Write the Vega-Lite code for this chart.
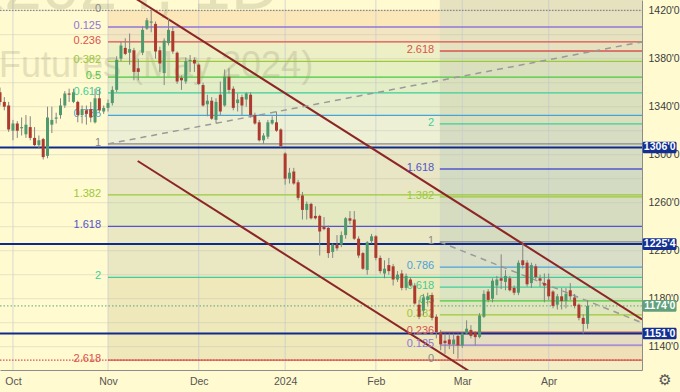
{
  "$schema": "https://vega.github.io/schema/vega-lite/v6.json",
  "width": 642,
  "height": 370,
  "autosize": {"type": "none"},
  "padding": {"left": 0, "top": 0, "right": 38, "bottom": 22},
  "background": "#fffad0",
  "config": {"view": {"stroke": null}, "font": "Liberation Sans"},
  "datasets": {
    "candles": [
      {"i":-3,"o":1352,"h":1356,"l":1341,"c":1344},
      {"i":-2,"o":1344,"h":1348,"l":1337,"c":1340},
      {"i":-1,"o":1341,"h":1344,"l":1319,"c":1321},
      {"i":0,"o":1320,"h":1329,"l":1312,"c":1326},
      {"i":1,"o":1326,"h":1328,"l":1314,"c":1320},
      {"i":2,"o":1322,"h":1331,"l":1316,"c":1323},
      {"i":3,"o":1317,"h":1333,"l":1314,"c":1325},
      {"i":4,"o":1323,"h":1332,"l":1312,"c":1314},
      {"i":5,"o":1314,"h":1323,"l":1307,"c":1308},
      {"i":6,"o":1308,"h":1316,"l":1305,"c":1312},
      {"i":7,"o":1313,"h":1314,"l":1296,"c":1298},
      {"i":8,"o":1299,"h":1340,"l":1297,"c":1331},
      {"i":9,"o":1325,"h":1340,"l":1318,"c":1329},
      {"i":10,"o":1330,"h":1335,"l":1326,"c":1331},
      {"i":11,"o":1333,"h":1347,"l":1330,"c":1341},
      {"i":12,"o":1341,"h":1353,"l":1339,"c":1351},
      {"i":13,"o":1351,"h":1355,"l":1344,"c":1350},
      {"i":14,"o":1344,"h":1355,"l":1343,"c":1352},
      {"i":15,"o":1344,"h":1345,"l":1327,"c":1333},
      {"i":16,"o":1333,"h":1341,"l":1326,"c":1338},
      {"i":17,"o":1337,"h":1341,"l":1325,"c":1334},
      {"i":18,"o":1338,"h":1344,"l":1327,"c":1331},
      {"i":19,"o":1327,"h":1355,"l":1326,"c":1347},
      {"i":20,"o":1347,"h":1355,"l":1335,"c":1337},
      {"i":21,"o":1336,"h":1341,"l":1334,"c":1339},
      {"i":22,"o":1339,"h":1346,"l":1336,"c":1343},
      {"i":23,"o":1343,"h":1357,"l":1341,"c":1354},
      {"i":24,"o":1354,"h":1382,"l":1352,"c":1379},
      {"i":25,"o":1380,"h":1394,"l":1378,"c":1391},
      {"i":26,"o":1389,"h":1397,"l":1383,"c":1384},
      {"i":27,"o":1385,"h":1401,"l":1375,"c":1388},
      {"i":28,"o":1387,"h":1389,"l":1362,"c":1369},
      {"i":29,"o":1372,"h":1380,"l":1362,"c":1369},
      {"i":30,"o":1385,"h":1407,"l":1383,"c":1404},
      {"i":31,"o":1405,"h":1414,"l":1404,"c":1412},
      {"i":32,"o":1410,"h":1420,"l":1402,"c":1411},
      {"i":33,"o":1409,"h":1411,"l":1380,"c":1386},
      {"i":34,"o":1387,"h":1390,"l":1369,"c":1376},
      {"i":35,"o":1368,"h":1397,"l":1358,"c":1395},
      {"i":36,"o":1393,"h":1414,"l":1391,"c":1404},
      {"i":37,"o":1403,"h":1407,"l":1384,"c":1386},
      {"i":38,"o":1385,"h":1386,"l":1359,"c":1361},
      {"i":39,"o":1364,"h":1366,"l":1354,"c":1362},
      {"i":40,"o":1361,"h":1381,"l":1359,"c":1378},
      {"i":41,"o":1378,"h":1383,"l":1369,"c":1379},
      {"i":42,"o":1379,"h":1381,"l":1369,"c":1376},
      {"i":43,"o":1375,"h":1376,"l":1358,"c":1359},
      {"i":44,"o":1358,"h":1360,"l":1340,"c":1341},
      {"i":45,"o":1342,"h":1350,"l":1332,"c":1345},
      {"i":46,"o":1345,"h":1348,"l":1329,"c":1330},
      {"i":47,"o":1329,"h":1347,"l":1326,"c":1344},
      {"i":48,"o":1350,"h":1361,"l":1333,"c":1336},
      {"i":49,"o":1341,"h":1371,"l":1340,"c":1365},
      {"i":50,"o":1365,"h":1372,"l":1351,"c":1354},
      {"i":51,"o":1355,"h":1357,"l":1337,"c":1339},
      {"i":52,"o":1343,"h":1351,"l":1336,"c":1346},
      {"i":53,"o":1348,"h":1350,"l":1333,"c":1341},
      {"i":54,"o":1346,"h":1352,"l":1340,"c":1351},
      {"i":55,"o":1350,"h":1352,"l":1331,"c":1333},
      {"i":56,"o":1333,"h":1335,"l":1325,"c":1326},
      {"i":57,"o":1327,"h":1329,"l":1311,"c":1312},
      {"i":58,"o":1312,"h":1318,"l":1309,"c":1316},
      {"i":59,"o":1315,"h":1329,"l":1313,"c":1327},
      {"i":60,"o":1326,"h":1332,"l":1325,"c":1329},
      {"i":61,"o":1327,"h":1336,"l":1319,"c":1320},
      {"i":62,"o":1321,"h":1322,"l":1306,"c":1307},
      {"i":63,"o":1301,"h":1302,"l":1275,"c":1280},
      {"i":64,"o":1280,"h":1289,"l":1276,"c":1285},
      {"i":65,"o":1286,"h":1289,"l":1275,"c":1276},
      {"i":66,"o":1277,"h":1279,"l":1262,"c":1264},
      {"i":67,"o":1266,"h":1269,"l":1246,"c":1254},
      {"i":68,"o":1254,"h":1261,"l":1246,"c":1259},
      {"i":69,"o":1259,"h":1260,"l":1246,"c":1247},
      {"i":70,"o":1249,"h":1257,"l":1246,"c":1247},
      {"i":71,"o":1249,"h":1250,"l":1216,"c":1236},
      {"i":72,"o":1240,"h":1248,"l":1237,"c":1238},
      {"i":73,"o":1239,"h":1241,"l":1214,"c":1218},
      {"i":74,"o":1219,"h":1226,"l":1214,"c":1225},
      {"i":75,"o":1225,"h":1233,"l":1220,"c":1222},
      {"i":76,"o":1225,"h":1236,"l":1223,"c":1233},
      {"i":77,"o":1233,"h":1248,"l":1230,"c":1247},
      {"i":78,"o":1247,"h":1253,"l":1242,"c":1245},
      {"i":79,"o":1246,"h":1253,"l":1229,"c":1230},
      {"i":80,"o":1230,"h":1232,"l":1214,"c":1216},
      {"i":81,"o":1218,"h":1219,"l":1204,"c":1205},
      {"i":82,"o":1204,"h":1228,"l":1200,"c":1227},
      {"i":83,"o":1228,"h":1234,"l":1226,"c":1232},
      {"i":84,"o":1232,"h":1233,"l":1212,"c":1214},
      {"i":85,"o":1214,"h":1216,"l":1201,"c":1203},
      {"i":86,"o":1201,"h":1212,"l":1197,"c":1205},
      {"i":87,"o":1208,"h":1214,"l":1200,"c":1203},
      {"i":88,"o":1207,"h":1209,"l":1191,"c":1196},
      {"i":89,"o":1196,"h":1203,"l":1194,"c":1200},
      {"i":90,"o":1201,"h":1204,"l":1187,"c":1189},
      {"i":91,"o":1189,"h":1201,"l":1187,"c":1199},
      {"i":92,"o":1196,"h":1198,"l":1190,"c":1191},
      {"i":93,"o":1191,"h":1193,"l":1175,"c":1176},
      {"i":94,"o":1175,"h":1179,"l":1163,"c":1165},
      {"i":95,"o":1170,"h":1184,"l":1166,"c":1181},
      {"i":96,"o":1179,"h":1185,"l":1175,"c":1182},
      {"i":97,"o":1183,"h":1185,"l":1162,"c":1164},
      {"i":98,"o":1165,"h":1167,"l":1147,"c":1152},
      {"i":99,"o":1152,"h":1154,"l":1137,"c":1142},
      {"i":100,"o":1145,"h":1151,"l":1134,"c":1143},
      {"i":101,"o":1146,"h":1151,"l":1138,"c":1142},
      {"i":102,"o":1142,"h":1151,"l":1134,"c":1146},
      {"i":103,"o":1149,"h":1151,"l":1130,"c":1141},
      {"i":104,"o":1141,"h":1152,"l":1139,"c":1151},
      {"i":105,"o":1151,"h":1162,"l":1150,"c":1155},
      {"i":106,"o":1154,"h":1158,"l":1147,"c":1149},
      {"i":107,"o":1152,"h":1153,"l":1141,"c":1148},
      {"i":108,"o":1148,"h":1168,"l":1147,"c":1166},
      {"i":109,"o":1165,"h":1187,"l":1164,"c":1184},
      {"i":110,"o":1186,"h":1188,"l":1177,"c":1179},
      {"i":111,"o":1180,"h":1197,"l":1177,"c":1195},
      {"i":112,"o":1191,"h":1199,"l":1183,"c":1196},
      {"i":113,"o":1197,"h":1217,"l":1188,"c":1195},
      {"i":114,"o":1194,"h":1204,"l":1187,"c":1199},
      {"i":115,"o":1197,"h":1199,"l":1186,"c":1187},
      {"i":116,"o":1189,"h":1191,"l":1183,"c":1185},
      {"i":117,"o":1185,"h":1212,"l":1183,"c":1210},
      {"i":118,"o":1212,"h":1226,"l":1205,"c":1208},
      {"i":119,"o":1210,"h":1212,"l":1190,"c":1192},
      {"i":120,"o":1193,"h":1210,"l":1189,"c":1208},
      {"i":121,"o":1207,"h":1209,"l":1196,"c":1198},
      {"i":122,"o":1197,"h":1200,"l":1190,"c":1195},
      {"i":123,"o":1193,"h":1201,"l":1177,"c":1191},
      {"i":124,"o":1196,"h":1201,"l":1179,"c":1182},
      {"i":125,"o":1186,"h":1187,"l":1172,"c":1174},
      {"i":126,"o":1175,"h":1184,"l":1171,"c":1182},
      {"i":127,"o":1182,"h":1189,"l":1171,"c":1178},
      {"i":128,"o":1178,"h":1189,"l":1172,"c":1184},
      {"i":129,"o":1187,"h":1193,"l":1179,"c":1182},
      {"i":130,"o":1181,"h":1184,"l":1172,"c":1174},
      {"i":131,"o":1175,"h":1176,"l":1162,"c":1164},
      {"i":132,"o":1164,"h":1167,"l":1151,"c":1159},
      {"i":133,"o":1159,"h":1179,"l":1155,"c":1174}
    ],
    "leftfib": [
      {"lvl":"0","p":1420.3},{"lvl":"0.125","p":1406.4},{"lvl":"0.236","p":1394.0},
      {"lvl":"0.382","p":1377.8},{"lvl":"0.5","p":1364.7},{"lvl":"0.618","p":1351.5},
      {"lvl":"0.786","p":1332.8},{"lvl":"1","p":1309.0},{"lvl":"1.382","p":1266.5},
      {"lvl":"1.618","p":1240.2},{"lvl":"2","p":1197.7},{"lvl":"2.618","p":1128.9}
    ],
    "rightfib": [
      {"lvl":"0","p":1129.0},{"lvl":"0.125","p":1141.3},{"lvl":"0.236","p":1152.2},
      {"lvl":"0.382","p":1166.6},{"lvl":"0.5","p":1178.2},{"lvl":"0.618","p":1189.7},
      {"lvl":"0.786","p":1206.3},{"lvl":"1","p":1227.3},{"lvl":"1.382","p":1264.9},
      {"lvl":"1.618","p":1288.1},{"lvl":"2","p":1325.6},{"lvl":"2.618","p":1386.4}
    ],
    "leftbands": [
      {"b":"L0","p1":1420.3,"p2":1406.4},{"b":"L1","p1":1406.4,"p2":1394.0},
      {"b":"L2","p1":1394.0,"p2":1377.8},{"b":"L3","p1":1377.8,"p2":1364.7},
      {"b":"L4","p1":1364.7,"p2":1351.5},{"b":"L5","p1":1351.5,"p2":1332.8},
      {"b":"L6","p1":1332.8,"p2":1309.0},{"b":"L7","p1":1309.0,"p2":1266.5},
      {"b":"L8","p1":1266.5,"p2":1240.2},{"b":"L9","p1":1240.2,"p2":1197.7},
      {"b":"L10","p1":1197.7,"p2":1128.9}
    ],
    "rightbands": [
      {"b":"RT","p1":1428.9,"p2":1386.4},{"b":"R0","p1":1386.4,"p2":1325.6},
      {"b":"R1","p1":1325.6,"p2":1288.1},{"b":"R2","p1":1288.1,"p2":1264.9},
      {"b":"R3","p1":1264.9,"p2":1227.3},{"b":"R4","p1":1227.3,"p2":1206.3},
      {"b":"R5","p1":1206.3,"p2":1189.7},{"b":"R6","p1":1189.7,"p2":1178.2},
      {"b":"R7","p1":1178.2,"p2":1166.6},{"b":"R8","p1":1166.6,"p2":1152.2},
      {"b":"R9","p1":1152.2,"p2":1141.3},{"b":"R10","p1":1141.3,"p2":1129.0},
      {"b":"RB","p1":1129.0,"p2":1120.6}
    ],
    "hgrid": [
      {"p":1140},{"p":1160},{"p":1180},{"p":1200},{"p":1220},{"p":1240},{"p":1260},{"p":1280},
      {"p":1300},{"p":1320},{"p":1340},{"p":1360},{"p":1380},{"p":1400},{"p":1420}
    ],
    "vgrid": [{"i":0},{"i":22},{"i":43},{"i":63},{"i":84},{"i":104},{"i":124}],
    "navy": [{"p":1306},{"p":1225.5},{"p":1151}],
    "tags": [
      {"p":1306,"t":"1306'0","k":"level"},
      {"p":1225.5,"t":"1225'4","k":"level"},
      {"p":1174,"t":"1174'0","k":"last"},
      {"p":1151,"t":"1151'0","k":"level"}
    ]
  },
  "layer": [
    {
      "data": {"name": "leftbands"},
      "mark": {"type": "rect"},
      "encoding": {
        "x": {"datum": 22, "type": "quantitative", "scale": {"domain": [-3, 145.6], "nice": false, "zero": false}},
        "x2": {"datum": 145.6},
        "y": {"field": "p1", "type": "quantitative", "scale": {"domain": [1120.6, 1428.9], "nice": false, "zero": false}},
        "y2": {"field": "p2"},
        "fill": {"field": "b", "type": "nominal", "legend": null,
          "scale": {"domain": ["L0","L1","L2","L3","L4","L5","L6","L7","L8","L9","L10","RT","R0","R1","R2","R3","R4","R5","R6","R7","R8","R9","R10","RB"],
                    "range": ["#fbe7b7","#f3e5c1","#edefc5","#e5efc1","#e3eec7","#e5edcd","#eef0d5","#e8e6c4","#e5e9c2","#eae7c3","#eee8bb","#e6e1bf","#dae0bd","#d6ddc3","#d3dbc3","#d5dcc0","#d9dec8","#dae2c6","#dce5c2","#dfe6bd","#e4e6bd","#e6dcc2","#efe0b8","#f3eec6"]}}
      }
    },
    {
      "data": {"name": "rightbands"},
      "mark": {"type": "rect"},
      "encoding": {
        "x": {"datum": 98.8, "type": "quantitative", "scale": {"domain": [-3, 145.6], "nice": false, "zero": false}},
        "x2": {"datum": 145.6},
        "y": {"field": "p1", "type": "quantitative", "scale": {"domain": [1120.6, 1428.9], "nice": false, "zero": false}},
        "y2": {"field": "p2"},
        "fill": {"field": "b", "type": "nominal", "legend": null,
          "scale": {"domain": ["L0","L1","L2","L3","L4","L5","L6","L7","L8","L9","L10","RT","R0","R1","R2","R3","R4","R5","R6","R7","R8","R9","R10","RB"],
                    "range": ["#fbe7b7","#f3e5c1","#edefc5","#e5efc1","#e3eec7","#e5edcd","#eef0d5","#e8e6c4","#e5e9c2","#eae7c3","#eee8bb","#e6e1bf","#dae0bd","#d6ddc3","#d3dbc3","#d5dcc0","#d9dec8","#dae2c6","#dce5c2","#dfe6bd","#e4e6bd","#e6dcc2","#efe0b8","#f3eec6"]}}
      }
    },
    {
      "data": {"name": "hgrid"},
      "mark": {"type": "rule", "color": "#b8b8a8", "opacity": 0.35, "strokeWidth": 1},
      "encoding": {
        "x": {"datum": -3, "type": "quantitative", "scale": {"domain": [-3, 145.6], "nice": false, "zero": false}},
        "x2": {"datum": 145.6},
        "y": {"field": "p", "type": "quantitative", "scale": {"domain": [1120.6, 1428.9], "nice": false, "zero": false}}
      }
    },
    {
      "data": {"name": "vgrid"},
      "mark": {"type": "rule", "color": "#c4c9d2", "opacity": 0.7, "strokeWidth": 1},
      "encoding": {
        "x": {"field": "i", "type": "quantitative", "scale": {"domain": [-3, 145.6], "nice": false, "zero": false}},
        "y": {"datum": 1120.6, "type": "quantitative", "scale": {"domain": [1120.6, 1428.9], "nice": false, "zero": false}},
        "y2": {"datum": 1428.9}
      }
    },
    {
      "data": {"values": [{"t": "Futures (May 2024)"}]},
      "mark": {"type": "text", "align": "left", "baseline": "alphabetic", "font": "Liberation Sans", "fontSize": 36, "color": "#8a8667", "opacity": 0.22},
      "encoding": {
        "x": {"datum": -3.23, "type": "quantitative", "scale": {"domain": [-3, 145.6], "nice": false, "zero": false}},
        "y": {"datum": 1364.5, "type": "quantitative", "scale": {"domain": [1120.6, 1428.9], "nice": false, "zero": false}},
        "text": {"field": "t"}
      }
    },
    {
      "data": {"values": [{"t": "ZSK2024, 1D"}]},
      "mark": {"type": "text", "align": "right", "baseline": "alphabetic", "font": "Liberation Sans", "fontSize": 68, "color": "#8a8667", "opacity": 0.22},
      "encoding": {
        "x": {"datum": 61.8, "type": "quantitative", "scale": {"domain": [-3, 145.6], "nice": false, "zero": false}},
        "y": {"datum": 1421, "type": "quantitative", "scale": {"domain": [1120.6, 1428.9], "nice": false, "zero": false}},
        "text": {"field": "t"}
      }
    },
    {
      "data": {"name": "leftfib"},
      "transform": [{"filter": "datum.lvl != '0'"}],
      "mark": {"type": "rule", "strokeWidth": 1.3},
      "encoding": {
        "x": {"datum": 22, "type": "quantitative", "scale": {"domain": [-3, 145.6], "nice": false, "zero": false}},
        "x2": {"datum": 145.6},
        "y": {"field": "p", "type": "quantitative", "scale": {"domain": [1120.6, 1428.9], "nice": false, "zero": false}},
        "stroke": {"field": "lvl", "type": "nominal", "legend": null,
          "scale": {"domain": ["0","0.125","0.236","0.382","0.5","0.618","0.786","1","1.382","1.618","2","2.618"],
                    "range": ["#8a8a8e","#9076d8","#d9534f","#9cc93a","#4cc83f","#3dcf98","#4aa3d8","#8a8a8a","#9cc93a","#5356cc","#3dcf98","#d9534f"]}}
      }
    },
    {
      "data": {"name": "rightfib"},
      "transform": [{"filter": "datum.lvl != '0'"}],
      "mark": {"type": "rule", "strokeWidth": 1.3},
      "encoding": {
        "x": {"datum": 98.8, "type": "quantitative", "scale": {"domain": [-3, 145.6], "nice": false, "zero": false}},
        "x2": {"datum": 145.6},
        "y": {"field": "p", "type": "quantitative", "scale": {"domain": [1120.6, 1428.9], "nice": false, "zero": false}},
        "stroke": {"field": "lvl", "type": "nominal", "legend": null,
          "scale": {"domain": ["0","0.125","0.236","0.382","0.5","0.618","0.786","1","1.382","1.618","2","2.618"],
                    "range": ["#8a8a8e","#9076d8","#d9534f","#9cc93a","#4cc83f","#3dcf98","#4aa3d8","#8a8a8a","#9cc93a","#5356cc","#3dcf98","#d9534f"]}}
      }
    },
    {
      "data": {"values": [{}]},
      "mark": {"type": "rule", "color": "#8a8a8a", "strokeWidth": 1.3, "strokeDash": [1.5, 1.5]},
      "encoding": {
        "x": {"datum": -3, "type": "quantitative", "scale": {"domain": [-3, 145.6], "nice": false, "zero": false}},
        "x2": {"datum": 145.6},
        "y": {"datum": 1420.3, "type": "quantitative", "scale": {"domain": [1120.6, 1428.9], "nice": false, "zero": false}}
      }
    },
    {
      "data": {"values": [{}]},
      "mark": {"type": "rule", "color": "#d9534f", "strokeWidth": 1.3, "strokeDash": [1.5, 1.5]},
      "encoding": {
        "x": {"datum": -3, "type": "quantitative", "scale": {"domain": [-3, 145.6], "nice": false, "zero": false}},
        "x2": {"datum": 145.6},
        "y": {"datum": 1128.9, "type": "quantitative", "scale": {"domain": [1120.6, 1428.9], "nice": false, "zero": false}}
      }
    },
    {
      "data": {"values": [{}]},
      "mark": {"type": "rule", "color": "#5fa37c", "strokeWidth": 1, "strokeDash": [1.5, 2]},
      "encoding": {
        "x": {"datum": -3, "type": "quantitative", "scale": {"domain": [-3, 145.6], "nice": false, "zero": false}},
        "x2": {"datum": 145.6},
        "y": {"datum": 1174, "type": "quantitative", "scale": {"domain": [1120.6, 1428.9], "nice": false, "zero": false}}
      }
    },
    {
      "data": {"name": "navy"},
      "mark": {"type": "rule", "color": "#102a8c", "strokeWidth": 2},
      "encoding": {
        "x": {"datum": -3, "type": "quantitative", "scale": {"domain": [-3, 145.6], "nice": false, "zero": false}},
        "x2": {"datum": 145.6},
        "y": {"field": "p", "type": "quantitative", "scale": {"domain": [1120.6, 1428.9], "nice": false, "zero": false}}
      }
    },
    {
      "data": {"values": [{}]},
      "mark": {"type": "rule", "color": "#8c2626", "strokeWidth": 2, "clip": true},
      "encoding": {
        "x": {"datum": 25, "type": "quantitative", "scale": {"domain": [-3, 145.6], "nice": false, "zero": false}},
        "x2": {"datum": 145.6},
        "y": {"datum": 1437.9, "type": "quantitative", "scale": {"domain": [1120.6, 1428.9], "nice": false, "zero": false}},
        "y2": {"datum": 1162.7}
      }
    },
    {
      "data": {"values": [{}]},
      "mark": {"type": "rule", "color": "#8c2626", "strokeWidth": 2, "clip": true},
      "encoding": {
        "x": {"datum": 28.87, "type": "quantitative", "scale": {"domain": [-3, 145.6], "nice": false, "zero": false}},
        "x2": {"datum": 110},
        "y": {"datum": 1294.75, "type": "quantitative", "scale": {"domain": [1120.6, 1428.9], "nice": false, "zero": false}},
        "y2": {"datum": 1109.6}
      }
    },
    {
      "data": {"values": [{}]},
      "mark": {"type": "rule", "color": "#9a9a9a", "strokeWidth": 1.5, "strokeDash": [6, 5], "clip": true},
      "encoding": {
        "x": {"datum": 22, "type": "quantitative", "scale": {"domain": [-3, 145.6], "nice": false, "zero": false}},
        "x2": {"datum": 145.6},
        "y": {"datum": 1309, "type": "quantitative", "scale": {"domain": [1120.6, 1428.9], "nice": false, "zero": false}},
        "y2": {"datum": 1394}
      }
    },
    {
      "data": {"values": [{}]},
      "mark": {"type": "rule", "color": "#9a9a9a", "strokeWidth": 1.5, "strokeDash": [6, 5], "clip": true},
      "encoding": {
        "x": {"datum": 98.8, "type": "quantitative", "scale": {"domain": [-3, 145.6], "nice": false, "zero": false}},
        "x2": {"datum": 145.6},
        "y": {"datum": 1227.3, "type": "quantitative", "scale": {"domain": [1120.6, 1428.9], "nice": false, "zero": false}},
        "y2": {"datum": 1160}
      }
    },
    {
      "data": {"name": "leftfib"},
      "mark": {"type": "text", "align": "right", "baseline": "middle", "dy": -1, "font": "Liberation Sans Narrow, Liberation Sans", "fontSize": 11},
      "encoding": {
        "x": {"datum": 20.4, "type": "quantitative", "scale": {"domain": [-3, 145.6], "nice": false, "zero": false}},
        "y": {"field": "p", "type": "quantitative", "scale": {"domain": [1120.6, 1428.9], "nice": false, "zero": false}},
        "text": {"field": "lvl"},
        "color": {"field": "lvl", "type": "nominal", "legend": null,
          "scale": {"domain": ["0","0.125","0.236","0.382","0.5","0.618","0.786","1","1.382","1.618","2","2.618"],
                    "range": ["#8a8a8e","#9076d8","#d9534f","#9cc93a","#4cc83f","#3dcf98","#4aa3d8","#8a8a8a","#9cc93a","#5356cc","#3dcf98","#d9534f"]}}
      }
    },
    {
      "data": {"name": "rightfib"},
      "mark": {"type": "text", "align": "right", "baseline": "middle", "dy": -1, "font": "Liberation Sans Narrow, Liberation Sans", "fontSize": 11},
      "encoding": {
        "x": {"datum": 97.5, "type": "quantitative", "scale": {"domain": [-3, 145.6], "nice": false, "zero": false}},
        "y": {"field": "p", "type": "quantitative", "scale": {"domain": [1120.6, 1428.9], "nice": false, "zero": false}},
        "text": {"field": "lvl"},
        "color": {"field": "lvl", "type": "nominal", "legend": null,
          "scale": {"domain": ["0","0.125","0.236","0.382","0.5","0.618","0.786","1","1.382","1.618","2","2.618"],
                    "range": ["#8a8a8e","#9076d8","#d9534f","#9cc93a","#4cc83f","#3dcf98","#4aa3d8","#8a8a8a","#9cc93a","#5356cc","#3dcf98","#d9534f"]}}
      }
    },
    {
      "data": {"name": "candles"},
      "mark": {"type": "rule", "strokeWidth": 1, "color": "#858585"},
      "encoding": {
        "x": {"field": "i", "type": "quantitative", "scale": {"domain": [-3, 145.6], "nice": false, "zero": false},
          "axis": {"orient": "bottom", "title": null, "values": [0, 22, 43, 63, 84, 104, 124],
            "labelExpr": "datum.value == 0 ? 'Oct' : datum.value == 22 ? 'Nov' : datum.value == 43 ? 'Dec' : datum.value == 63 ? '2024' : datum.value == 84 ? 'Feb' : datum.value == 104 ? 'Mar' : 'Apr'",
            "grid": false, "ticks": false, "domain": true, "domainColor": "#8c8c8c", "labelPadding": 6, "labelFlush": false, "labelOverlap": false,
            "labelFont": "Liberation Sans Narrow, Liberation Sans", "labelFontSize": 10.5, "labelColor": "#555555"}},
        "y": {"field": "l", "type": "quantitative", "scale": {"domain": [1120.6, 1428.9], "nice": false, "zero": false},
          "axis": {"orient": "right", "title": null, "values": [1140, 1160, 1180, 1200, 1220, 1240, 1260, 1280, 1300, 1320, 1340, 1360, 1380, 1400, 1420],
            "labelExpr": "datum.value + \"'0\"", "grid": false, "ticks": false, "domain": true, "domainColor": "#8c8c8c",
            "labelPadding": 6, "labelFlush": false, "labelOverlap": false,
            "labelFont": "Liberation Sans Narrow, Liberation Sans", "labelFontSize": 10.5, "labelColor": "#3c3c3c"}},
        "y2": {"field": "h"}
      }
    },
    {
      "data": {"name": "candles"},
      "mark": {"type": "rule", "strokeWidth": 3, "strokeCap": "butt"},
      "encoding": {
        "x": {"field": "i", "type": "quantitative", "scale": {"domain": [-3, 145.6], "nice": false, "zero": false}},
        "y": {"field": "o", "type": "quantitative", "scale": {"domain": [1120.6, 1428.9], "nice": false, "zero": false}},
        "y2": {"field": "c"},
        "color": {"condition": {"test": "datum.c >= datum.o", "value": "#4e9a6c"}, "value": "#ad3a2e"}
      }
    },
    {
      "data": {"name": "tags"},
      "mark": {"type": "rect", "yOffset": -5.8, "y2Offset": 5.8, "cornerRadius": 1.5},
      "encoding": {
        "x": {"datum": 145.75, "type": "quantitative", "scale": {"domain": [-3, 145.6], "nice": false, "zero": false}},
        "x2": {"datum": 153.6},
        "y": {"field": "p", "type": "quantitative", "scale": {"domain": [1120.6, 1428.9], "nice": false, "zero": false}},
        "y2": {"field": "p"},
        "color": {"condition": {"test": "datum.k == 'last'", "value": "#62a07c"}, "value": "#122f91"}
      }
    },
    {
      "data": {"name": "tags"},
      "mark": {"type": "text", "align": "center", "baseline": "middle", "color": "#ffffff", "font": "Liberation Sans Narrow, Liberation Sans", "fontSize": 10.5, "fontWeight": "bold"},
      "encoding": {
        "x": {"datum": 149.7, "type": "quantitative", "scale": {"domain": [-3, 145.6], "nice": false, "zero": false}},
        "y": {"field": "p", "type": "quantitative", "scale": {"domain": [1120.6, 1428.9], "nice": false, "zero": false}},
        "text": {"field": "t"}
      }
    },
    {
      "data": {"values": [{"t": "⚙"}]},
      "mark": {"type": "text", "align": "center", "baseline": "middle", "color": "#555555", "font": "DejaVu Sans", "fontSize": 15},
      "encoding": {
        "x": {"datum": 150.9, "type": "quantitative", "scale": {"domain": [-3, 145.6], "nice": false, "zero": false}},
        "y": {"datum": 1112.3, "type": "quantitative", "scale": {"domain": [1120.6, 1428.9], "nice": false, "zero": false}},
        "text": {"field": "t"}
      }
    }
  ]
}
